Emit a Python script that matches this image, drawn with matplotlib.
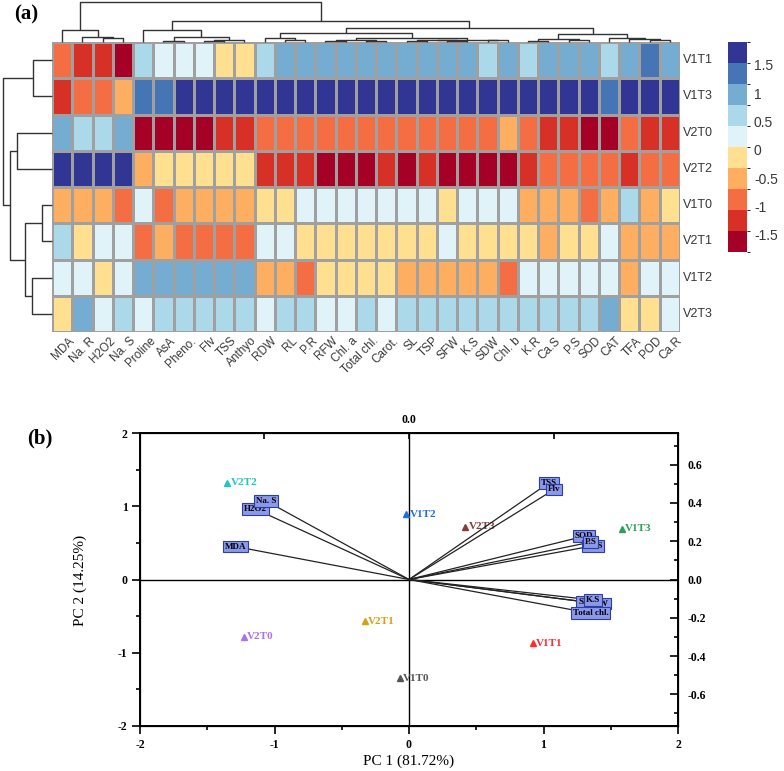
import numpy as np
import matplotlib
matplotlib.use('Agg')
import matplotlib.pyplot as plt
from matplotlib.colors import ListedColormap, BoundaryNorm
import matplotlib.colorbar as mcb
from matplotlib.ticker import MultipleLocator, FixedLocator

# ---------------- data: heatmap (z-scores, read by colour class) ----------------
col_labels = ["MDA", "Na. R", "H2O2", "Na. S", "Proline", "AsA", "Pheno.", "Flv", "TSS",
              "Anthyo", "RDW", "RL", "P.R", "RFW", "Chl. a", "Total chl.", "Carot.", "SL",
              "TSP", "SFW", "K.S", "SDW", "Chl. b", "K.R", "Ca.S", "P.S", "SOD", "CAT",
              "TFA", "POD", "Ca.R"]
row_labels = ["V1T1", "V1T3", "V2T0", "V2T2", "V1T0", "V2T1", "V1T2", "V2T3"]

v1t1 = [-0.9, -1.25, -1.25, -1.6, 0.6, 0.25, 0.25, 0.25, -0.15, -0.15, 0.6, 1.0, 1.0, 1.0, 1.0, 1.0,
        1.0, 1.0, 1.0, 1.0, 1.0, 0.6, 1.0, 0.6, 1.0, 1.0, 1.0, 0.6, 1.0, 1.35, 1.0]
v1t3 = [-1.25, -0.9, -0.9, -0.5, 1.35, 1.35, 1.7, 1.7, 1.7, 1.7, 1.7, 1.7, 1.7, 1.7, 1.7, 1.7,
        1.7, 1.7, 1.7, 1.7, 1.7, 1.7, 1.7, 1.7, 1.7, 1.7, 1.7, 1.35, 1.7, 1.7, 1.7]
v2t0 = [1.0, 0.6, 0.6, 1.0, -1.6, -1.6, -1.6, -1.6, -1.25, -1.25, -0.9, -0.9, -0.9, -0.9, -0.9, -0.9,
        -0.9, -0.9, -0.9, -0.9, -0.9, -0.9, -0.5, -0.9, -1.25, -1.25, -1.6, -1.6, -0.9, -1.25, -1.25]
v2t2 = [1.7, 1.7, 1.7, 1.7, -0.5, -0.15, -0.15, -0.15, -0.15, -0.15, -1.25, -1.25, -1.25, -1.6, -1.6, -1.6,
        -1.25, -1.6, -1.25, -1.6, -1.6, -1.6, -1.6, -1.25, -0.9, -0.9, -0.9, -0.9, -1.25, -0.9, -0.9]
v1t0 = [-0.5, -0.5, -0.5, -0.9, 0.25, -0.9, -0.5, -0.5, -0.5, -0.5, -0.15, -0.15, 0.25, 0.25, 0.25, 0.25,
        0.25, 0.25, 0.25, -0.15, 0.25, 0.25, 0.25, -0.5, -0.5, -0.5, -0.9, -0.5, 0.6, -0.5, -0.15]
v2t1 = [0.6, -0.15, 0.25, 0.25, -0.9, -0.5, -0.9, -0.9, -0.9, -0.9, 0.25, 0.25, -0.15, -0.15, -0.15, -0.15,
        -0.15, -0.15, -0.15, 0.25, -0.15, -0.15, -0.15, -0.15, -0.5, -0.15, -0.15, 0.25, -0.5, -0.5, -0.5]
v1t2 = [0.25, 0.25, -0.15, 0.25, 1.0, 1.0, 1.0, 1.0, 1.0, 1.0, -0.5, -0.5, -0.9, -0.15, -0.15, -0.15,
        -0.15, -0.5, -0.5, -0.5, -0.5, -0.5, -0.9, 0.25, 0.25, 0.25, 0.25, 0.25, -0.5, 0.25, 0.25]
v2t3 = [-0.15, 1.0, 0.25, 0.6, 0.25, 0.6, 0.6, 0.6, 0.6, 0.6, 0.25, 0.6, 0.6, 0.25, 0.25, 0.6,
        0.25, 0.6, 0.6, 0.6, 0.6, 0.6, 0.6, 0.6, 0.6, 0.6, 0.6, 1.0, -0.15, -0.15, 0.25]

heat_colors = ["#a50026", "#d73027", "#f46d43", "#fdae61", "#fee090",
               "#e0f3f8", "#abd9e9", "#74add1", "#4575b4", "#313695"]
heat_bounds = np.linspace(-1.8, 1.9, 11)
cbar_ticks = [-1.5, -1, -0.5, 0, 0.5, 1, 1.5]

# dendrograms: (left, right, merge height)
col_tree = ((0, (1, (2, 3, 4), 5), 12),
            ((4, ((5, 6, 1.5), ((7, 8, 1.2), 9, 2), 5), 12),
             (((10, (11, 12, 2), 4),
               (((13, 14, 1), (15, 16, 1.5), 2.5), (((17, 18, 1), (19, 20, 0.8), 1.8), (21, 22, 2), 2.5), 4.5), 9),
              (((23, 24, 1.5), (25, 26, 2), 3.5), (27, (28, (29, 30, 2), 3), 4), 8), 14), 21), 40)
row_tree = ((0, 1, 19), ((2, 3, 35), ((4, 5, 10), (6, 7, 20), 27), 42), 49)

# ---------------- data: PCA biplot ----------------
score_names = ["V2T2", "V1T2", "V2T3", "V1T3", "V2T1", "V2T0", "V1T0", "V1T1"]
score_pc1 = [-1.35, -0.02, 0.42, 1.58, -0.33, -1.23, -0.07, 0.92]
score_pc2 = [1.32, 0.89, 0.72, 0.69, -0.57, -0.78, -1.35, -0.87]
score_colors = ["#22c4c4", "#1f6fe0", "#8b3a3a", "#2ca05a", "#d4a017", "#b070e0", "#555555", "#ff2a2a"]

load_names = ["MDA", "H2O2", "Na. S", "TSS", "Flv", "SOD", "Ca.S", "P.S", "SFW", "RFW", "K.S", "Total chl."]
load_pc1 = [-1.29, -1.14, -1.06, 1.04, 1.08, 1.30, 1.37, 1.35, 1.33, 1.41, 1.37, 1.35]
load_pc2 = [0.45, 0.96, 1.07, 1.32, 1.23, 0.59, 0.46, 0.51, -0.31, -0.33, -0.28, -0.46]

W, H = 784, 771
fig = plt.figure(figsize=(W / 100, H / 100), dpi=100)
SANS = "Liberation Sans"
SERIF = "Liberation Serif"


def px_axes(x0, y0, x1, y1):
    return fig.add_axes([x0 / W, 1 - y1 / H, (x1 - x0) / W, (y1 - y0) / H])


# ---------------- heatmap ----------------
mat = np.array([v1t1, v1t3, v2t0, v2t2, v1t0, v2t1, v1t2, v2t3])
cmap = ListedColormap(heat_colors)
norm = BoundaryNorm(heat_bounds, cmap.N)
ax = px_axes(52, 42, 680, 332)
ax.pcolormesh(np.arange(mat.shape[1] + 1), np.arange(mat.shape[0] + 1), mat, cmap=cmap, norm=norm,
              edgecolors="#a0a0a0", linewidth=0.9)
ax.set_xlim(0, mat.shape[1])
ax.set_ylim(mat.shape[0], 0)
ax.axis("off")
for i, lab in enumerate(col_labels):
    ax.text(i + 0.8, mat.shape[0] + 0.08, lab, rotation=45, ha="right", va="top", rotation_mode="anchor",
            fontsize=8.5, color="#383838", family=SANS)
for j, lab in enumerate(row_labels):
    ax.text(mat.shape[1] + 0.15, j + 0.5, lab, ha="left", va="center", fontsize=9, color="#383838", family=SANS)

cax = px_axes(728, 42, 747, 252)
cb = mcb.ColorbarBase(cax, cmap=cmap, norm=norm, ticks=cbar_ticks, spacing="proportional")
cb.outline.set_visible(False)
cax.tick_params(length=0, pad=5, labelsize=10, labelcolor="#383838")
cax.set_yticklabels([("%g" % t) for t in cbar_ticks], family=SANS)


def draw_tree(a, node, orient):
    if isinstance(node, int):
        return node + 0.5, 0.0
    l, r, h = node
    xl, hl = draw_tree(a, l, orient)
    xr, hr = draw_tree(a, r, orient)
    xs = [xl, xl, xr, xr]
    ys = [hl, h, h, hr]
    if orient == "top":
        a.plot(xs, ys, color="#333333", lw=1, clip_on=False, solid_capstyle="butt")
    else:
        a.plot(ys, xs, color="#333333", lw=1, clip_on=False, solid_capstyle="butt")
    return (xl + xr) / 2, h


dax = px_axes(52, 2, 680, 42)
dax.set_xlim(0, mat.shape[1])
dax.set_ylim(0, 40)
dax.axis("off")
draw_tree(dax, col_tree, "top")

rax = px_axes(0, 42, 52, 332)
rax.set_ylim(mat.shape[0], 0)
rax.set_xlim(52, 0)
rax.axis("off")
draw_tree(rax, row_tree, "left")

fig.text(26 / W, 1 - 14 / H, "(a)", fontsize=15, fontweight="bold", family=SERIF, ha="center", va="center")

# ---------------- PCA biplot ----------------
bx = px_axes(140, 433, 678, 726)
bx.set_xlim(-2, 2)
bx.set_ylim(-2, 2)
bx.axhline(0, color="black", lw=1, zorder=1)
bx.axvline(0, color="black", lw=1, zorder=1)
for s in bx.spines.values():
    s.set_linewidth(1.4)
bx.xaxis.set_major_locator(MultipleLocator(1))
bx.yaxis.set_major_locator(MultipleLocator(1))
bx.xaxis.set_minor_locator(MultipleLocator(0.5))
bx.yaxis.set_minor_locator(MultipleLocator(0.5))
bx.tick_params(which="major", direction="out", length=6, width=1.2, labelsize=8.5, pad=3)
bx.tick_params(which="minor", direction="out", length=3, width=1.2)
bx.set_xticks([-2, -1, 0, 1, 2])
bx.set_yticks([-2, -1, 0, 1, 2])
bx.set_xticklabels(["-2", "-1", "0", "1", "2"])
bx.set_yticklabels(["-2", "-1", "0", "1", "2"])
for t in bx.get_xticklabels() + bx.get_yticklabels():
    t.set_fontweight("bold")
    t.set_family(SERIF)

for x, y in zip(load_pc1, load_pc2):
    bx.plot([0, x], [0, y], color="#222222", lw=0.9, zorder=3.5)
for x, y, n in zip(load_pc1, load_pc2, load_names):
    bx.text(x, y, n, ha="center", va="center", fontsize=6.5, fontweight="bold", family=SERIF, zorder=4,
            bbox=dict(boxstyle="square,pad=0.2", fc="#8b98ec", ec="#2a3f9f", lw=0.8))

for x, y, n, c in zip(score_pc1, score_pc2, score_names, score_colors):
    bx.plot([x], [y], marker="^", ms=4.5, color=c, ls="none", zorder=3)
    bx.annotate(n, (x, y), xytext=(2.5, 0), textcoords="offset points", ha="left", va="center",
                fontsize=8, fontweight="bold", family=SERIF, color=c, zorder=3)

ry = bx.twinx()
ry.set_ylim(-0.766, 0.766)
ry.yaxis.set_major_locator(FixedLocator([-0.6, -0.4, -0.2, 0.0, 0.2, 0.4, 0.6]))
ry.yaxis.set_minor_locator(FixedLocator([-0.7, -0.5, -0.3, -0.1, 0.1, 0.3, 0.5, 0.7]))
ry.tick_params(which="major", direction="in", length=6, width=1.2, labelsize=8.5, pad=7)
ry.tick_params(which="minor", direction="in", length=3, width=1.2)
ry.set_yticklabels(["%.1f" % v for v in [-0.6, -0.4, -0.2, 0.0, 0.2, 0.4, 0.6]])
for t in ry.get_yticklabels():
    t.set_fontweight("bold")
    t.set_family(SERIF)

tx = bx.twiny()
tx.set_xlim(-0.93, 0.93)
tx.xaxis.set_major_locator(FixedLocator([-0.5, 0.0, 0.5]))
tx.tick_params(which="major", direction="in", length=4, width=1.2, labelsize=8.5, pad=5)
tx.set_xticklabels(["", "0.0", ""])
for t in tx.get_xticklabels():
    t.set_fontweight("bold")
    t.set_family(SERIF)

fig.text(409 / W, 1 - 761 / H, "PC 1 (81.72%)", fontsize=11, family=SERIF, ha="center", va="center")
fig.text(80 / W, 1 - 580 / H, "PC 2 (14.25%)", fontsize=11, family=SERIF, ha="center", va="center", rotation=90)
fig.text(40 / W, 1 - 438 / H, "(b)", fontsize=15, fontweight="bold", family=SERIF, ha="center", va="center")

fig.savefig("out.png", dpi=100)
